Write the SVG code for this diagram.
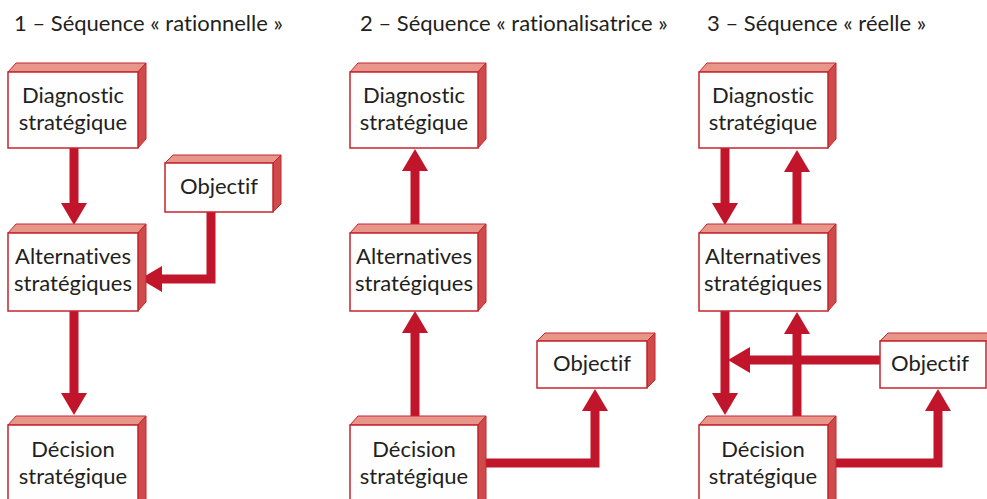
<svg xmlns="http://www.w3.org/2000/svg" width="987" height="499" viewBox="0 0 987 499">
  <style>
    .front { fill: #fefefe; stroke: #c4262e; stroke-width: 1.5; }
    .top { fill: #e9968a; stroke: #c4262e; stroke-width: 1; }
    .side { fill: #cf4a4a; stroke: #c4262e; stroke-width: 1; }
    text { font-family: "Lato", "Liberation Sans", sans-serif; font-size: 22px; fill: #231f20; font-variant-ligatures: none; }
    .lbl { text-anchor: middle; }
    .arrow { fill: none; stroke: #c0152a; stroke-width: 9; stroke-linejoin: miter; }
  </style>
  <defs>
    <marker id="head" viewBox="0 0 22 26" refX="0" refY="13" markerWidth="22" markerHeight="26" markerUnits="userSpaceOnUse" orient="auto">
      <path d="M0,0 L22,13 L0,26 Z" fill="#c0152a"/>
    </marker>
  </defs>

  <!-- titles -->
  <text x="14" y="31">1 – Séquence « rationnelle »</text>
  <text x="360" y="31">2 – Séquence « rationalisatrice »</text>
  <text x="707" y="31">3 – Séquence « réelle »</text>

  <!-- connectors -->
  <g id="connectors">
    <!-- sequence 1 -->
    <path class="arrow" d="M74,148 V203" marker-end="url(#head)"/>
    <path class="arrow" d="M74,311 V393" marker-end="url(#head)"/>
    <path class="arrow" d="M211,212 V279 H162" marker-end="url(#head)"/>
    <!-- sequence 2 -->
    <path class="arrow" d="M415,416 V333" marker-end="url(#head)"/>
    <path class="arrow" d="M415,224 V171" marker-end="url(#head)"/>
    <path class="arrow" d="M486,463 H595 V411" marker-end="url(#head)"/>
    <!-- sequence 3 -->
    <path class="arrow" d="M725,148 V203" marker-end="url(#head)"/>
    <path class="arrow" d="M797,224 V172" marker-end="url(#head)"/>
    <path class="arrow" d="M725,311 V393" marker-end="url(#head)"/>
    <path class="arrow" d="M797,416 V334" marker-end="url(#head)"/>
    <path class="arrow" d="M880,360 H750" marker-end="url(#head)"/>
    <path class="arrow" d="M836,463 H938 V411" marker-end="url(#head)"/>
  </g>

  <!-- sequence 1 nodes -->
  <g id="diag1">
    <polygon class="top" points="8,72 16,63 146,63 138,72"/>
    <polygon class="side" points="138,72 146,63 146,139 138,148"/>
    <rect class="front" x="8" y="72" width="130" height="76"/>
    <text class="lbl" x="73" y="103">Diagnostic</text>
    <text class="lbl" x="73" y="130">stratégique</text>
  </g>
  <g id="obj1">
    <polygon class="top" points="165,163 173,155 281,155 273,163"/>
    <polygon class="side" points="273,163 281,155 281,204 273,212"/>
    <rect class="front" x="165" y="163" width="108" height="49"/>
    <text class="lbl" x="219" y="194">Objectif</text>
  </g>
  <g id="alt1">
    <polygon class="top" points="8,233 16,224 146,224 138,233"/>
    <polygon class="side" points="138,233 146,224 146,302 138,311"/>
    <rect class="front" x="8" y="233" width="130" height="78"/>
    <text class="lbl" x="73" y="264">Alternatives</text>
    <text class="lbl" x="73" y="291">stratégiques</text>
  </g>
  <g id="dec1">
    <polygon class="top" points="8,425 16,416 146,416 138,425"/>
    <polygon class="side" points="138,425 146,416 146,510 138,519"/>
    <rect class="front" x="8" y="425" width="130" height="90"/>
    <text class="lbl" x="73" y="457">Décision</text>
    <text class="lbl" x="73" y="484">stratégique</text>
  </g>

  <!-- sequence 2 nodes -->
  <g id="diag2">
    <polygon class="top" points="350,72 358,63 486,63 478,72"/>
    <polygon class="side" points="478,72 486,63 486,139 478,148"/>
    <rect class="front" x="350" y="72" width="128" height="76"/>
    <text class="lbl" x="414" y="103">Diagnostic</text>
    <text class="lbl" x="414" y="130">stratégique</text>
  </g>
  <g id="alt2">
    <polygon class="top" points="350,233 358,224 486,224 478,233"/>
    <polygon class="side" points="478,233 486,224 486,302 478,311"/>
    <rect class="front" x="350" y="233" width="128" height="78"/>
    <text class="lbl" x="414" y="264">Alternatives</text>
    <text class="lbl" x="414" y="291">stratégiques</text>
  </g>
  <g id="obj2">
    <polygon class="top" points="537,341 545,333 655,333 647,341"/>
    <polygon class="side" points="647,341 655,333 655,380 647,388"/>
    <rect class="front" x="537" y="341" width="110" height="47"/>
    <text class="lbl" x="592" y="371">Objectif</text>
  </g>
  <g id="dec2">
    <polygon class="top" points="350,425 358,416 486,416 478,425"/>
    <polygon class="side" points="478,425 486,416 486,510 478,519"/>
    <rect class="front" x="350" y="425" width="128" height="90"/>
    <text class="lbl" x="414" y="457">Décision</text>
    <text class="lbl" x="414" y="484">stratégique</text>
  </g>

  <!-- sequence 3 nodes -->
  <g id="diag3">
    <polygon class="top" points="699,72 707,63 836,63 828,72"/>
    <polygon class="side" points="828,72 836,63 836,139 828,148"/>
    <rect class="front" x="699" y="72" width="129" height="76"/>
    <text class="lbl" x="763" y="103">Diagnostic</text>
    <text class="lbl" x="763" y="130">stratégique</text>
  </g>
  <g id="alt3">
    <polygon class="top" points="699,233 707,224 836,224 828,233"/>
    <polygon class="side" points="828,233 836,224 836,302 828,311"/>
    <rect class="front" x="699" y="233" width="129" height="78"/>
    <text class="lbl" x="763" y="264">Alternatives</text>
    <text class="lbl" x="763" y="291">stratégiques</text>
  </g>
  <g id="obj3">
    <polygon class="top" points="880,341 888,333 995,333 987,341"/>
    <rect class="front" x="880" y="341" width="106" height="47"/>
    <text class="lbl" x="930" y="371">Objectif</text>
  </g>
  <g id="dec3">
    <polygon class="top" points="699,425 707,416 836,416 828,425"/>
    <polygon class="side" points="828,425 836,416 836,510 828,519"/>
    <rect class="front" x="699" y="425" width="129" height="90"/>
    <text class="lbl" x="763" y="457">Décision</text>
    <text class="lbl" x="763" y="484">stratégique</text>
  </g>
</svg>
